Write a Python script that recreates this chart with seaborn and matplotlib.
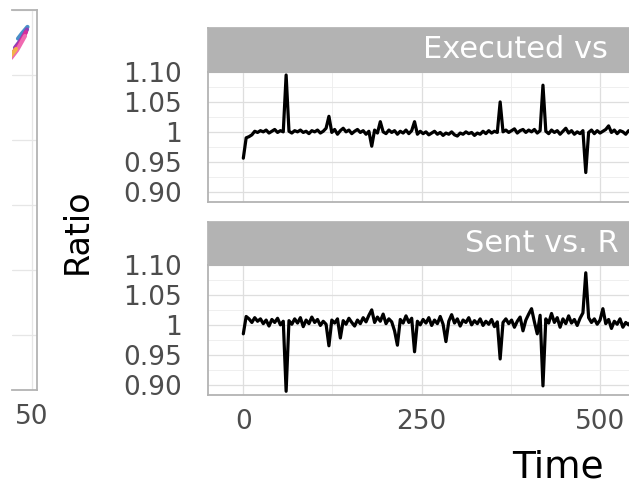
import numpy as np
import pandas as pd
import seaborn as sns
import matplotlib
matplotlib.use("Agg")
import matplotlib.pyplot as plt
from matplotlib.ticker import MultipleLocator

# ratio series, sampled every 4 time units from t=0
executed = [0.956, 0.990, 0.992, 0.995, 1.001, 0.999, 1.002, 1.000, 1.003, 0.998,
            1.001, 1.004, 0.999, 1.002, 1.000, 1.095, 1.001, 0.998, 1.002, 1.000,
            1.003, 0.999, 1.001, 0.997, 1.002, 1.000, 1.003, 0.998, 1.001, 1.006,
            1.026, 0.999, 1.004, 0.996, 1.002, 1.006, 1.000, 1.003, 0.997, 1.001,
            1.004, 0.999, 1.002, 0.996, 1.001, 0.976, 1.003, 0.998, 1.017, 1.000,
            0.997, 1.003, 0.999, 1.002, 0.996, 1.001, 0.998, 1.003, 0.997, 1.002,
            1.017, 0.996, 1.001, 0.997, 1.000, 0.995, 0.998, 1.001, 0.996, 0.999,
            0.994, 0.998, 0.996, 1.000, 0.995, 0.993, 0.998, 0.996, 1.000, 0.997,
            0.999, 0.994, 0.998, 0.996, 1.001, 0.997, 1.002, 0.998, 1.001, 0.999,
            1.050, 1.000, 1.003, 0.999, 1.002, 1.005, 0.998, 1.002, 1.004, 0.999,
            1.003, 1.000, 1.004, 0.998, 1.002, 1.078, 1.001, 0.997, 1.003, 0.999,
            1.002, 0.996, 1.001, 1.006, 0.998, 1.002, 0.996, 1.000, 0.997, 1.002,
            0.932, 0.999, 1.003, 0.997, 1.002, 0.998, 1.001, 1.004, 1.010, 0.999,
            1.003, 0.997, 1.002, 1.000, 0.996, 1.002, 0.999]
sent = [0.985, 1.014, 1.010, 1.004, 1.012, 1.006, 1.010, 1.002, 1.008, 0.998,
        1.009, 1.004, 1.011, 1.000, 1.006, 0.889, 1.007, 1.001, 1.010, 1.003,
        1.012, 0.997, 1.008, 1.002, 1.013, 1.004, 1.009, 0.999, 1.006, 1.001,
        0.965, 1.008, 1.003, 1.010, 0.978, 1.007, 1.001, 1.011, 1.004, 0.998,
        1.008, 1.002, 1.012, 1.005, 1.016, 1.025, 1.004, 1.013, 1.006, 1.018,
        1.002, 1.010, 1.005, 0.990, 0.966, 1.009, 1.003, 1.015, 1.004, 1.011,
        0.955, 1.006, 1.000, 1.009, 1.003, 1.012, 0.999, 1.008, 1.002, 1.014,
        1.001, 0.972, 1.006, 1.017, 1.003, 1.010, 0.998, 1.008, 1.004, 1.012,
        1.000, 1.007, 1.002, 1.010, 0.999, 1.006, 1.001, 1.009, 0.997, 1.005,
        0.943, 1.004, 1.010, 1.002, 1.008, 0.996, 1.006, 1.013, 0.990, 1.008,
        1.018, 1.027, 1.005, 0.985, 1.016, 0.898, 1.010, 1.003, 1.019, 1.004,
        1.012, 0.996, 1.010, 1.002, 1.015, 1.003, 1.009, 0.999, 1.011, 1.020,
        1.087, 1.012, 1.004, 1.010, 1.001, 1.008, 1.027, 1.002, 1.009, 0.994,
        1.006, 1.001, 1.010, 0.996, 1.004, 1.000, 1.007]
# only the visible part of the strip titles (the picture is cropped on the right)
panel_titles = ["Executed vs", "Sent vs. R"]
title_x = [423, 465]
y_ticks = [0.90, 0.95, 1.00, 1.05, 1.10]
y_labels = ["0.90", "0.95", "1", "1.05", "1.10"]
x_ticks = [0, 250, 500]

# bit of the neighbouring panel that is cut off on the left
feather_x = [36, 40, 45.5, 33, 39, 45, 30, 37, 44, 29, 35, 43, 28, 31, 34]
feather_y = [2.28, 2.32, 2.37, 2.21, 2.27, 2.35, 2.16, 2.23, 2.33, 2.13, 2.19, 2.30, 2.14, 2.17, 2.20]
feather_grp = ["a"] * 3 + ["b"] * 3 + ["c"] * 3 + ["d"] * 3 + ["e"] * 3
feather_cols = ["#4a8fc8", "#8e3fb5", "#d62d9c", "#f06ab0", "#f2b24a"]

frames = []
for title, vals in zip(panel_titles, [executed, sent]):
    frames.append(pd.DataFrame({"time": np.arange(len(vals)) * 4, "ratio": vals, "panel": title}))
df = pd.concat(frames)
feather = pd.DataFrame({"x": feather_x, "y": feather_y, "grp": feather_grp})

sns.set_theme(style="white")
plt.rcParams["font.family"] = ["DejaVu Sans"]

W, H = 629, 486
fig = plt.figure(figsize=(6.29, 4.86), dpi=100)
border = "#B3B3B3"
tick_col = "#555555"
lab_col = "#4D4D4D"


def px_axes(x0, y0, x1, y1):
    return fig.add_axes([x0 / W, 1 - y1 / H, (x1 - x0) / W, (y1 - y0) / H])


# left sliver panel
sl = px_axes(12, 10, 37, 390)
sns.lineplot(data=feather, x="x", y="y", hue="grp", palette=feather_cols, lw=3,
             legend=False, ax=sl, estimator=None, sort=False)
sl.set_xlim(30, 55)
sl.set_ylim(-0.423, 2.5)
sl.set_xticks([50])
sl.set_xticklabels(["50"])
sl.yaxis.set_major_locator(MultipleLocator(1))
sl.yaxis.set_minor_locator(MultipleLocator(0.5))
sl.set_yticklabels([])
sl.grid(True, which="both", color="#E6E6E6", lw=0.9)
sl.spines["left"].set_visible(False)
for s in ["top", "right", "bottom"]:
    sl.spines[s].set_color(border)
    sl.spines[s].set_linewidth(1.3)
sl.tick_params(axis="x", length=5, width=1.1, color=tick_col, labelsize=19, labelcolor=lab_col, pad=5)
sl.tick_params(axis="y", which="both", length=0)
sl.set_xlabel("")
sl.set_ylabel("")

# main facet panels
panels = [(72, 202, 28), (265, 395, 222)]
for (top, bot, strip_top), title, tx in zip(panels, panel_titles, title_x):
    ax = px_axes(208, top, 940, bot)
    sub = df[df["panel"] == title]
    sns.lineplot(data=sub, x="time", y="ratio", color="black", lw=2.3, ax=ax,
                 estimator=None, errorbar=None)
    ax.set_xlim(-49.5, 976.5)
    ax.set_ylim(0.8828, 1.1)
    ax.set_yticks(y_ticks)
    ax.set_yticklabels(y_labels)
    ax.yaxis.set_minor_locator(MultipleLocator(0.025))
    ax.set_xticks(x_ticks)
    ax.xaxis.set_minor_locator(MultipleLocator(125))
    ax.grid(True, which="major", color="#DEDEDE", lw=0.9)
    ax.grid(True, which="minor", color="#EDEDED", lw=0.6)
    for s in ax.spines.values():
        s.set_color(border)
        s.set_linewidth(1.3)
    ax.tick_params(axis="y", length=5, width=1.1, color=tick_col, labelsize=19,
                   labelcolor=lab_col, pad=14)
    ax.tick_params(which="minor", length=0)
    if bot == 395:
        ax.tick_params(axis="x", length=5, width=1.1, color=tick_col, labelsize=19,
                       labelcolor=lab_col, pad=5)
    else:
        ax.tick_params(axis="x", length=0, labelbottom=False)
    ax.set_xlabel("")
    ax.set_ylabel("")

    st = px_axes(208, strip_top, 940, top)
    st.set_facecolor(border)
    st.set_xticks([])
    st.set_yticks([])
    for s in st.spines.values():
        s.set_color(border)
    fig.text(tx / W, 1 - (strip_top + top) / 2 / H, title, ha="left", va="center",
             color="white", fontsize=22)

fig.text(77 / W, 1 - 231 / H, "Ratio", rotation=90, ha="center", va="center",
         fontsize=24, color="black")
fig.text(558 / W, 1 - 468 / H, "Time", ha="center", va="center", fontsize=27, color="black")

fig.savefig("out.png", dpi=100)
